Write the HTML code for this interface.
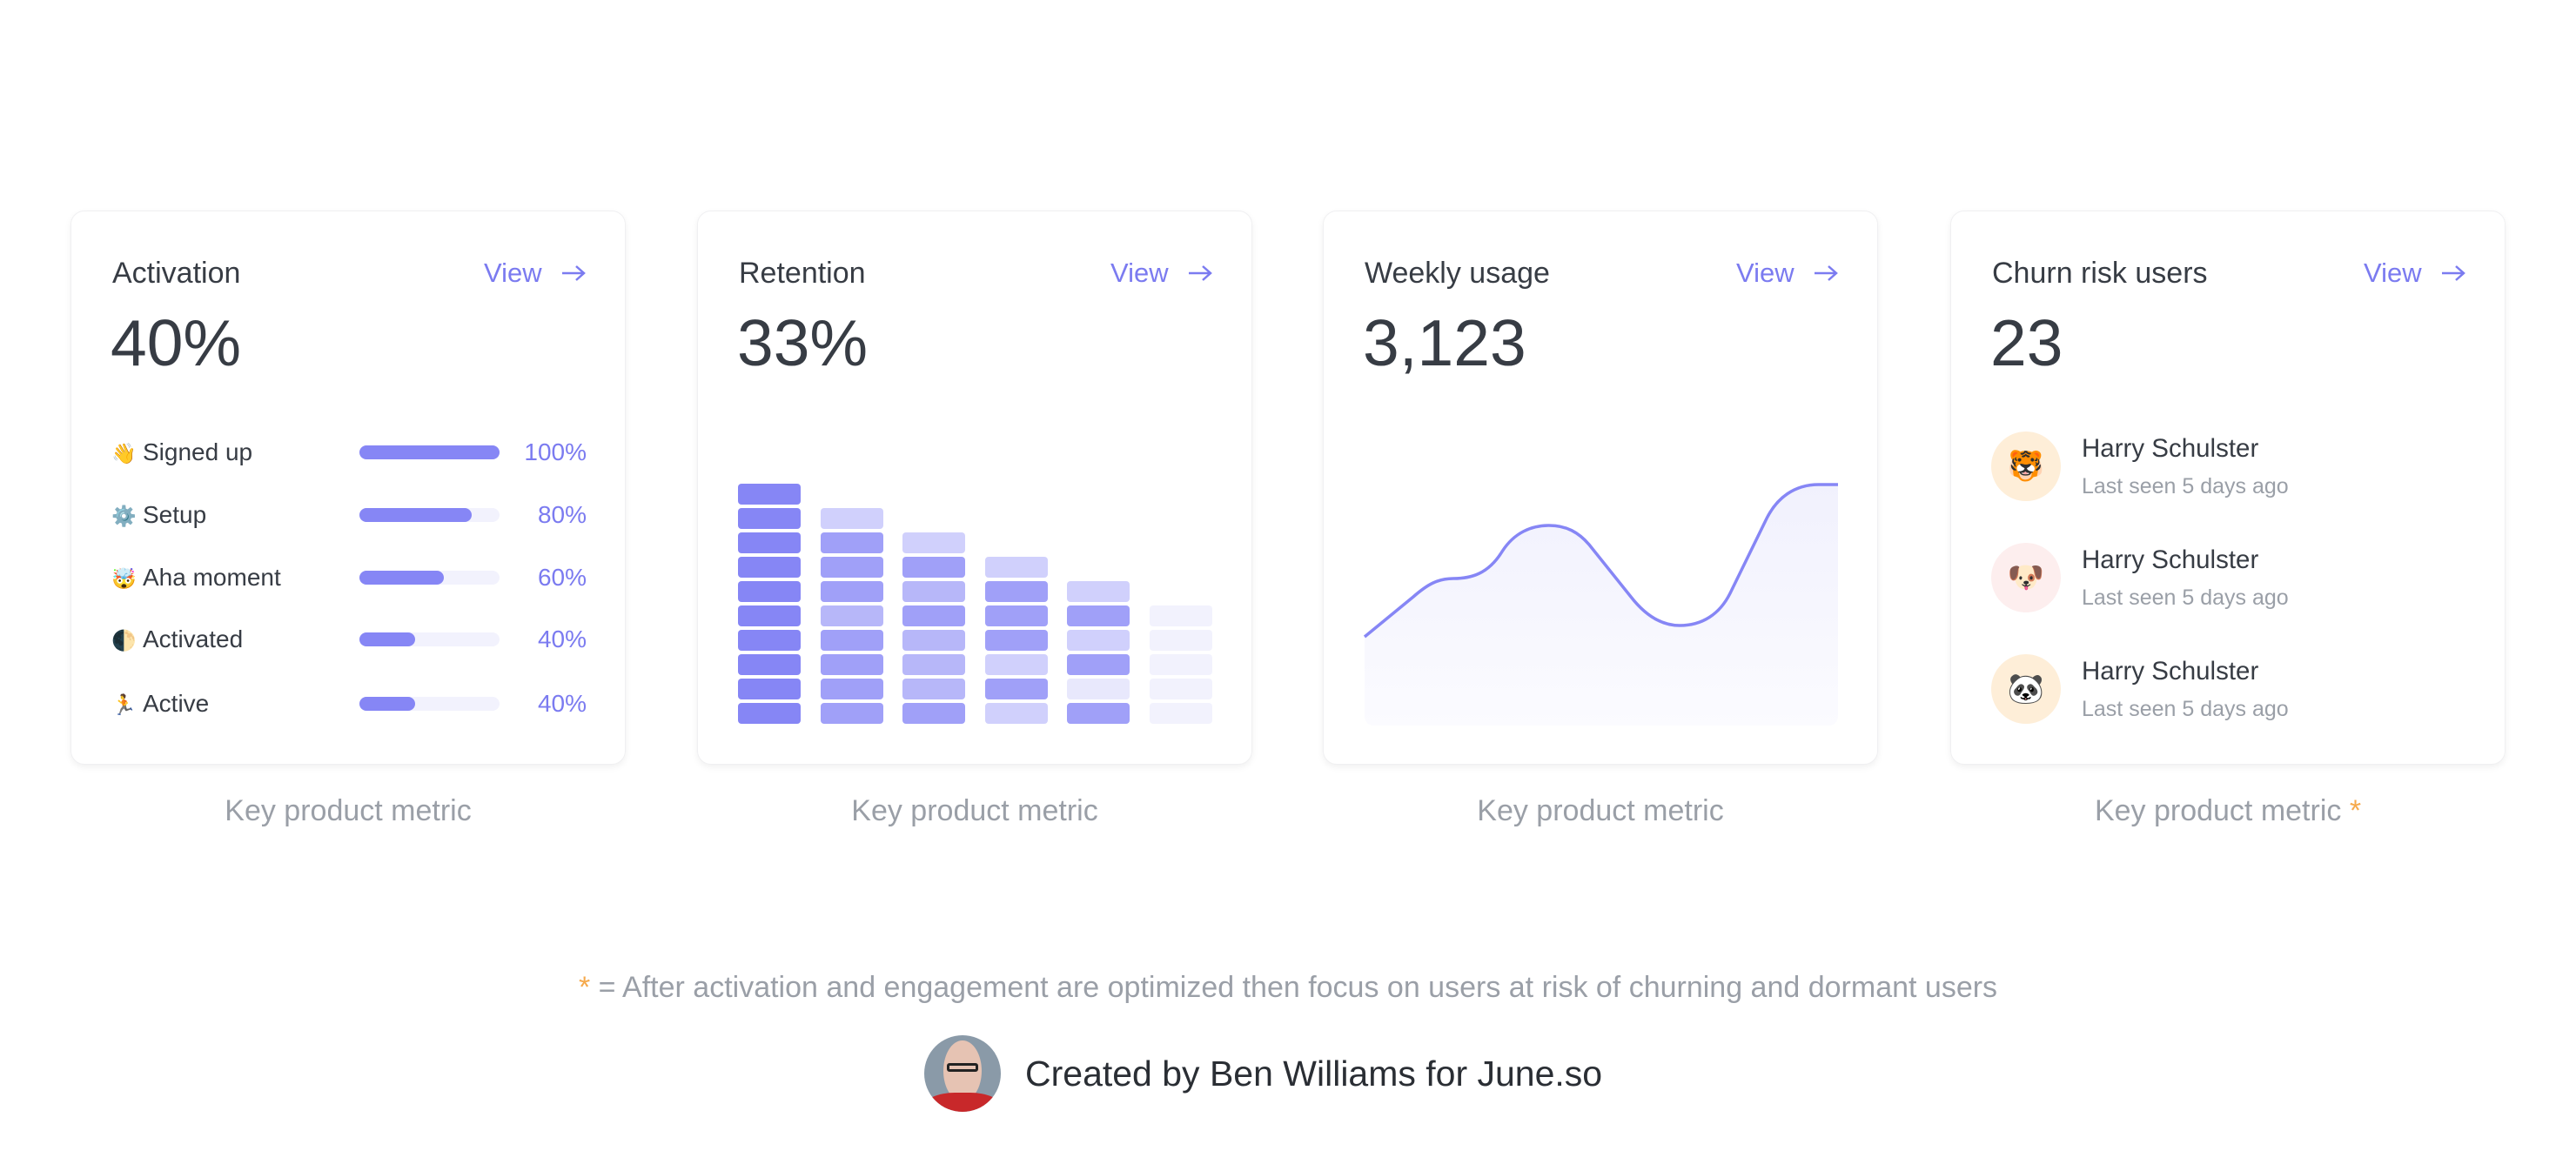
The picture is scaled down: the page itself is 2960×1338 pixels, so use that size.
<!DOCTYPE html>
<html><head><meta charset="utf-8"><style>
*{margin:0;padding:0;box-sizing:border-box}
body{width:2960px;height:1338px;background:#fff;font-family:"Liberation Sans",sans-serif;color:#373c44;position:relative;overflow:hidden}
.card{position:absolute;top:242px;width:638px;height:637px;background:#fff;border:1px solid #f0f0f2;border-radius:16px;box-shadow:0 3px 8px rgba(0,0,0,0.06)}
.t{position:absolute;left:47px;top:51px;font-size:34px;line-height:40px;color:#373c44}
.v{position:absolute;left:474px;top:52px;font-size:31px;line-height:38px;color:#7b7bf0}
.ar{position:absolute;left:562px;top:60px}
.n{position:absolute;left:45px;top:106px;font-size:75px;line-height:90px;color:#373c44}
.cap{position:absolute;top:913px;width:638px;text-align:center;font-size:34px;color:#9a9fa7}
.row{position:absolute;left:46px;width:546px;height:40px}
.row .l{position:absolute;left:0;top:0;font-size:28px;line-height:40px}
.row .l i{font-style:normal;font-size:23px;display:inline-block;width:36px}
.row .tr{position:absolute;left:285px;top:12px;width:161px;height:16px;border-radius:8px;background:#f2f2fd}
.row .f{height:16px;border-radius:8px;background:#8686f5}
.row .p{position:absolute;right:0;top:0;font-size:28px;line-height:40px;color:#7b7bf0}
.b{position:absolute;width:72px;height:24px;border-radius:4px}
.av{position:absolute;left:92px;width:80px;height:80px;border-radius:50%;text-align:center;line-height:80px;font-size:34px}
.nm{position:absolute;left:150px;font-size:29.5px;color:#373c44}
.sb{position:absolute;left:150px;font-size:25px;color:#9a9fa7}
</style></head><body>

<div class="card" style="left:81px">
 <div class="t">Activation</div><div class="v">View</div>
 <svg class="ar" width="30" height="22"><path d="M2,11 H27 M18,3 L27,11 L18,19" fill="none" stroke="#7b7bf0" stroke-width="2.5"/></svg>
 <div class="n">40%</div>
 <div class="row" style="top:257px"><div class="l"><i>👋</i>Signed up</div><div class="tr"><div class="f" style="width:100%"></div></div><div class="p">100%</div></div>
 <div class="row" style="top:329px"><div class="l"><i>⚙️</i>Setup</div><div class="tr"><div class="f" style="width:80%"></div></div><div class="p">80%</div></div>
 <div class="row" style="top:401px"><div class="l"><i>🤯</i>Aha moment</div><div class="tr"><div class="f" style="width:60%"></div></div><div class="p">60%</div></div>
 <div class="row" style="top:472px"><div class="l"><i>🌓</i>Activated</div><div class="tr"><div class="f" style="width:40%"></div></div><div class="p">40%</div></div>
 <div class="row" style="top:546px"><div class="l"><i>🏃</i>Active</div><div class="tr"><div class="f" style="width:40%"></div></div><div class="p">40%</div></div>
</div>
<div class="cap" style="left:81px">Key product metric</div>

<div class="card" style="left:801px">
 <div class="t">Retention</div><div class="v">View</div>
 <svg class="ar" width="30" height="22"><path d="M2,11 H27 M18,3 L27,11 L18,19" fill="none" stroke="#7b7bf0" stroke-width="2.5"/></svg>
 <div class="n">33%</div>
</div>
<div id="bars"></div>
<div class="cap" style="left:801px">Key product metric</div>

<div class="card" style="left:1520px">
 <div class="t">Weekly usage</div><div class="v">View</div>
 <svg class="ar" width="30" height="22"><path d="M2,11 H27 M18,3 L27,11 L18,19" fill="none" stroke="#7b7bf0" stroke-width="2.5"/></svg>
 <div class="n">3,123</div>
</div>
<svg style="position:absolute;left:0;top:0" width="2960" height="1338">
 <defs><linearGradient id="g" x1="0" y1="0" x2="0" y2="1"><stop offset="0" stop-color="#f1f1fd"/><stop offset="1" stop-color="#fbfbff"/></linearGradient></defs>
 <path d="M1568,732 L1624,686 C1640,672 1652,665 1670,665 C1690,665 1710,660 1726,634 C1740,612 1760,604 1780,604 C1800,604 1814,612 1826,626 L1874,686 C1888,704 1906,719 1930,719 C1956,719 1976,706 1988,682 L2030,596 C2042,572 2062,557 2090,557 L2112,557 L2112,822 Q2112,834 2100,834 L1580,834 Q1568,834 1568,822 Z" fill="url(#g)"/>
 <path d="M1568,732 L1624,686 C1640,672 1652,665 1670,665 C1690,665 1710,660 1726,634 C1740,612 1760,604 1780,604 C1800,604 1814,612 1826,626 L1874,686 C1888,704 1906,719 1930,719 C1956,719 1976,706 1988,682 L2030,596 C2042,572 2062,557 2090,557 L2112,557" fill="none" stroke="#8686f5" stroke-width="3.5"/>
</svg>
<div class="cap" style="left:1520px">Key product metric</div>

<div class="card" style="left:2241px">
 <div class="t">Churn risk users</div><div class="v">View</div>
 <svg class="ar" width="30" height="22"><path d="M2,11 H27 M18,3 L27,11 L18,19" fill="none" stroke="#7b7bf0" stroke-width="2.5"/></svg>
 <div class="n">23</div>
 <div class="av" style="top:253px;left:46px;background:#feeed8">🐯</div>
 <div class="nm" style="top:256px">Harry Schulster</div><div class="sb" style="top:302px">Last seen 5 days ago</div>
 <div class="av" style="top:381px;left:46px;background:#fdeeee">🐶</div>
 <div class="nm" style="top:384px">Harry Schulster</div><div class="sb" style="top:430px">Last seen 5 days ago</div>
 <div class="av" style="top:509px;left:46px;background:#feeed8">🐼</div>
 <div class="nm" style="top:512px">Harry Schulster</div><div class="sb" style="top:558px">Last seen 5 days ago</div>
</div>
<div class="cap" style="left:2241px">Key product metric <span style="color:#f6a94b">*</span></div>

<div style="position:absolute;left:0;width:2960px;top:1116px;text-align:center;font-size:34px;color:#9a9fa7"><span style="color:#f6a94b">*</span> = After activation and engagement are optimized then focus on users at risk of churning and dormant users</div>
<div style="position:absolute;left:1062px;top:1190px;width:88px;height:88px;border-radius:50%;overflow:hidden;background:#8a9aa8">
 <div style="position:absolute;left:22px;top:6px;width:44px;height:70px;border-radius:50%;background:#e6c3b3"></div>
 <div style="position:absolute;left:0;top:66px;width:88px;height:40px;border-radius:40%;background:#c8282a"></div>
 <div style="position:absolute;left:26px;top:32px;width:36px;height:10px;border:3px solid #222;border-radius:3px"></div>
</div>
<div style="position:absolute;left:1178px;top:1210px;font-size:41px;line-height:48px;color:#2a2e34">Created by Ben Williams for June.so</div>

<script>
var D='#8686f5',M='#a0a0f8',S='#b7b7f9',L='#d0d0fc',X='#e8e8fc',F='#f2f2fd';
var cols=[[D,D,D,D,D,D,D,D,D,D],[L,M,M,M,S,M,M,M,M],[L,M,S,M,S,S,S,M],[L,M,M,M,L,M,L],[L,M,L,M,X,M],[F,F,F,F,F]];
var h='';
cols.forEach(function(c,i){var start=10-c.length;c.forEach(function(col,j){var r=start+j;h+='<div class="b" style="left:'+(848+i*94.6).toFixed(1)+'px;top:'+(556+r*28)+'px;background:'+col+'"></div>';});});
document.getElementById('bars').innerHTML=h;
</script>
</body></html>
